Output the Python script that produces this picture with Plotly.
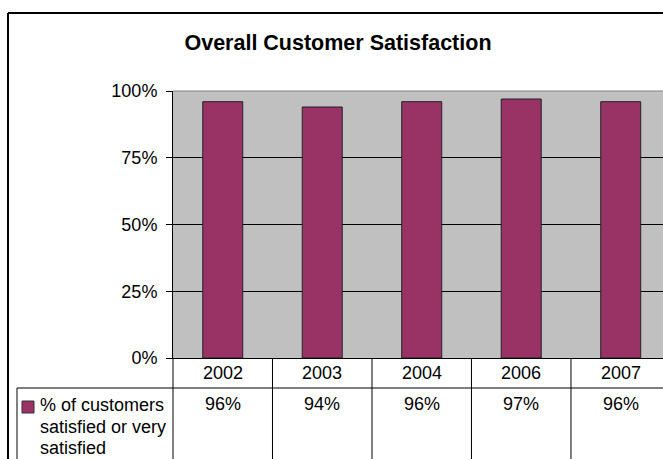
import plotly.graph_objects as go

years = ["2002", "2003", "2004", "2006", "2007"]
satisfied = [0.96, 0.94, 0.96, 0.97, 0.96]
value_labels = ["96%", "94%", "96%", "97%", "96%"]
series_name = ["% of customers", "satisfied or very", "satisfied"]
title_text = "Overall Customer Satisfaction"
y_ticks = [0, 0.25, 0.5, 0.75, 1.0]

W, H = 663, 459
L, T, B = 173, 91, 358          # plot area pixel edges
PW, PH = W - L, B - T
XMIN, XMAX = -0.5, 4.425
FONT = "Liberation Sans, Arial, sans-serif"
BAR = "#993366"

def px(xp):
    return (xp - L) / PW

def py(yp):
    return (B - yp) / PH

def cat_paper(v):
    return (v - XMIN) / (XMAX - XMIN)

fig = go.Figure()
fig.add_trace(go.Bar(
    x=years, y=satisfied, name=" ".join(series_name),
    marker=dict(color=BAR, line=dict(color="#222222", width=1)),
    showlegend=False, hoverinfo="x+y",
))

shapes = []
blk = dict(color="black", width=1)
# outer chart border
shapes.append(dict(type="line", xref="paper", yref="paper", x0=px(8), x1=px(8), y0=py(13), y1=py(470), line=dict(color="black", width=2)))
shapes.append(dict(type="line", xref="paper", yref="paper", x0=px(8), x1=px(680), y0=py(13), y1=py(13), line=dict(color="black", width=2)))
# top of plot area (gray)
shapes.append(dict(type="line", xref="paper", yref="paper", x0=0, x1=1, y0=1, y1=1, line=dict(color="#808080", width=1)))
# data table lines
shapes.append(dict(type="line", xref="paper", yref="paper", x0=px(17), x1=px(680), y0=py(388), y1=py(388), line=blk))
shapes.append(dict(type="line", xref="paper", yref="paper", x0=px(17), x1=px(17), y0=py(388), y1=py(470), line=blk))
shapes.append(dict(type="line", xref="paper", yref="paper", x0=0, x1=0, y0=0, y1=py(470), line=blk))
for i in range(len(years) - 1):
    xp = cat_paper(i + 0.5)
    shapes.append(dict(type="line", xref="paper", yref="paper", x0=xp, x1=xp, y0=0, y1=py(470), line=blk))
# legend key
shapes.append(dict(type="rect", xref="paper", yref="paper", x0=px(22), x1=px(34), y0=py(413), y1=py(401),
                   fillcolor=BAR, line=dict(color="#333333", width=1)))

ann = []
for i, (yr, lab) in enumerate(zip(years, value_labels)):
    xc = cat_paper(i)
    ann.append(dict(x=xc, xref="paper", y=py(373), yref="paper", text=yr, showarrow=False,
                    xanchor="center", yanchor="middle", font=dict(size=18, color="black", family=FONT)))
    ann.append(dict(x=xc, xref="paper", y=py(404), yref="paper", text=lab, showarrow=False,
                    xanchor="center", yanchor="middle", font=dict(size=18, color="black", family=FONT)))
for line_txt, yc in zip(series_name, [405, 427, 448]):
    ann.append(dict(x=px(38), xref="paper", y=py(yc), yref="paper", text=line_txt, showarrow=False,
                    xanchor="left", yanchor="middle", font=dict(size=18, color="black", family=FONT)))

fig.update_layout(
    width=W, height=H,
    margin=dict(l=L, r=0, t=T, b=H - B, pad=0),
    paper_bgcolor="white", plot_bgcolor="#C0C0C0",
    bargap=0.598,
    title=dict(text="<b>" + title_text + "</b>", x=338 / W, xanchor="center",
               y=1 - 42 / H, yanchor="middle", xref="container", yref="container",
               font=dict(size=21.5, color="black", family=FONT)),
    xaxis=dict(type="category", range=[XMIN, XMAX], showticklabels=False, ticks="", showgrid=False,
               showline=True, linecolor="black", linewidth=1, fixedrange=True),
    yaxis=dict(range=[0, 1], tickvals=y_ticks, tickformat=".0%", ticks="outside", ticklen=6,
               tickcolor="black", showline=True, linecolor="black", linewidth=1,
               showgrid=True, gridcolor="black", gridwidth=1, zeroline=False,
               ticklabelstandoff=5,
               tickfont=dict(size=18, color="black", family=FONT), fixedrange=True),
    shapes=shapes, annotations=ann,
    font=dict(family=FONT, color="black"),
)

fig.write_html("out.html")
